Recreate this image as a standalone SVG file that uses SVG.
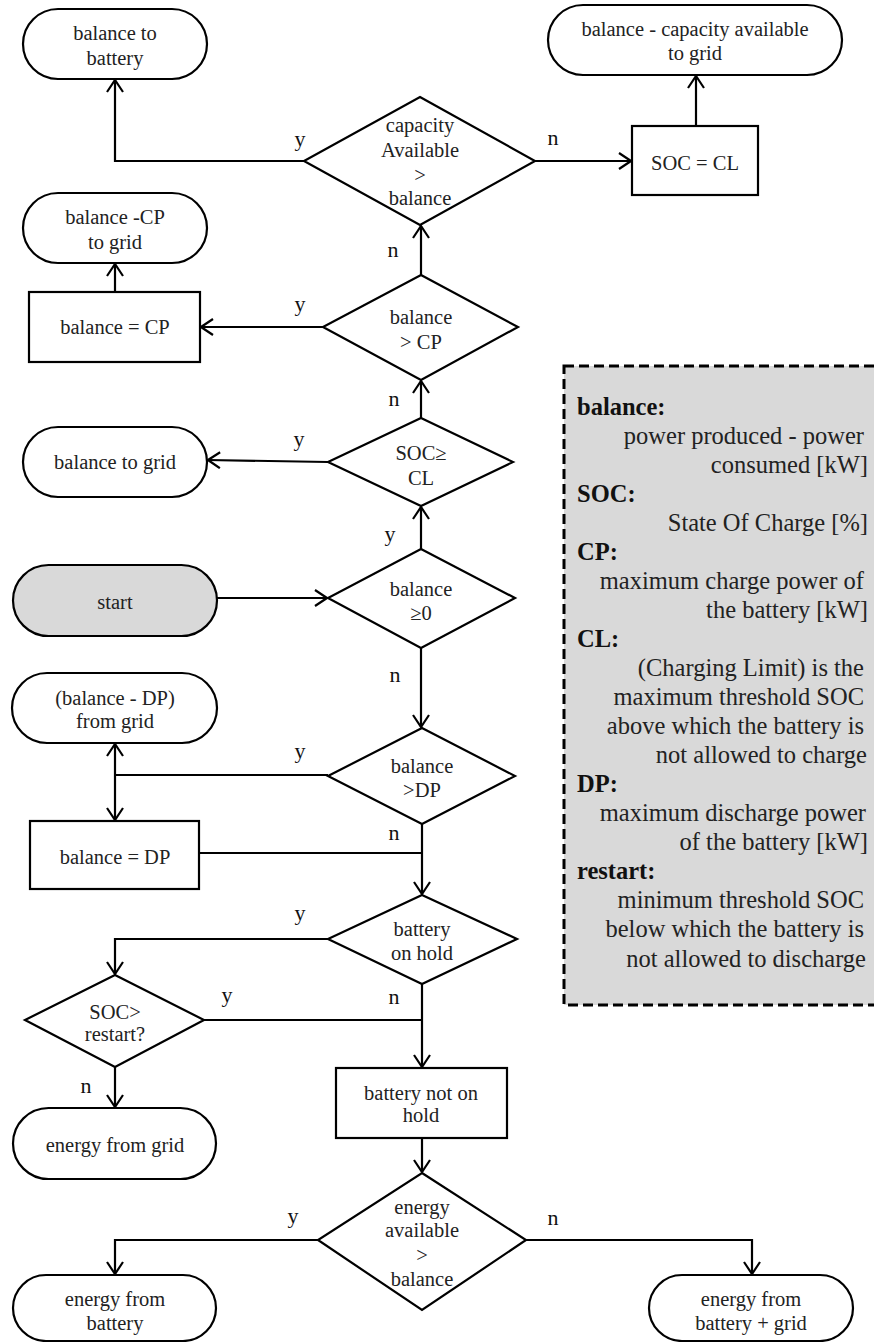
<svg xmlns="http://www.w3.org/2000/svg" width="874" height="1342" viewBox="0 0 874 1342">
<style>
.shape{fill:#fff;stroke:#000;stroke-width:2.2}
.start{fill:#d9d9d9;stroke:#000;stroke-width:2.2}
.t{font-family:"Liberation Serif","Times New Roman",serif;font-size:20.5px;fill:#222;text-anchor:middle}
.lbl{font-family:"Liberation Serif","Times New Roman",serif;font-size:22px;fill:#111;text-anchor:middle}
.conn{fill:none;stroke:#000;stroke-width:2.2}
.lg{font-family:"Liberation Serif","Times New Roman",serif;font-size:24.5px;fill:#222}
.lgb{font-family:"Liberation Serif","Times New Roman",serif;font-size:24.5px;fill:#111;font-weight:bold}
.r{text-anchor:end}
</style>
<defs>
<marker id="arr" viewBox="0 0 14 18" refX="13" refY="9" markerWidth="14" markerHeight="18" markerUnits="userSpaceOnUse" orient="auto">
<path d="M1,1 L13,9 L1,17" fill="none" stroke="#000" stroke-width="2.2"/>
</marker>
</defs>
<rect width="874" height="1342" fill="#fff"/>

<g id="legend">
<rect x="564" y="366" width="340" height="639" fill="#d9d9d9" stroke="#000" stroke-width="3" stroke-dasharray="10,5"/>
<text class="lgb" x="577" y="415">balance:</text>
<text class="lg r" x="864" y="444">power produced - power</text>
<text class="lg r" x="868" y="473">consumed [kW]</text>
<text class="lgb" x="577" y="502">SOC:</text>
<text class="lg r" x="868" y="531">State Of Charge [%]</text>
<text class="lgb" x="577" y="560">CP:</text>
<text class="lg r" x="864" y="589">maximum charge power of</text>
<text class="lg r" x="868" y="618">the battery [kW]</text>
<text class="lgb" x="577" y="647">CL:</text>
<text class="lg r" x="864" y="676">(Charging Limit) is the</text>
<text class="lg r" x="864" y="705">maximum threshold SOC</text>
<text class="lg r" x="864" y="734">above which the battery is</text>
<text class="lg r" x="867" y="763">not allowed to charge</text>
<text class="lgb" x="577" y="792">DP:</text>
<text class="lg r" x="866" y="821">maximum discharge power</text>
<text class="lg r" x="868" y="850">of the battery [kW]</text>
<text class="lgb" x="577" y="879">restart:</text>
<text class="lg r" x="864" y="908">minimum threshold SOC</text>
<text class="lg r" x="864" y="937">below which the battery is</text>
<text class="lg r" x="866" y="967">not allowed to discharge</text>
</g>

<g id="connectors">
<polyline class="conn" points="304,161 115,161 115,80" marker-end="url(#arr)"/>
<line class="conn" x1="535" y1="161" x2="631" y2="161" marker-end="url(#arr)"/>
<line class="conn" x1="696" y1="126" x2="696" y2="76" marker-end="url(#arr)"/>
<line class="conn" x1="421" y1="275" x2="421" y2="226" marker-end="url(#arr)"/>
<line class="conn" x1="323" y1="327" x2="201" y2="327" marker-end="url(#arr)"/>
<line class="conn" x1="115" y1="292" x2="115" y2="264" marker-end="url(#arr)"/>
<line class="conn" x1="421" y1="418" x2="421" y2="381" marker-end="url(#arr)"/>
<line class="conn" x1="328" y1="462" x2="208" y2="460" marker-end="url(#arr)"/>
<line class="conn" x1="421" y1="549" x2="421" y2="507" marker-end="url(#arr)"/>
<line class="conn" x1="217" y1="598" x2="327" y2="598" marker-end="url(#arr)"/>
<line class="conn" x1="421" y1="648" x2="421" y2="727" marker-end="url(#arr)"/>
<line class="conn" x1="328" y1="775" x2="115" y2="775"/>
<line class="conn" x1="115" y1="775" x2="115" y2="744" marker-end="url(#arr)"/>
<line class="conn" x1="115" y1="775" x2="115" y2="820" marker-end="url(#arr)"/>
<line class="conn" x1="422" y1="824" x2="422" y2="894" stroke-width="2.6" marker-end="url(#arr)"/>
<line class="conn" x1="199" y1="853" x2="422" y2="853"/>
<polyline class="conn" points="328,939 115,939 115,974" marker-end="url(#arr)"/>
<line class="conn" x1="422" y1="984" x2="422" y2="1067" stroke-width="2.6" marker-end="url(#arr)"/>
<line class="conn" x1="204" y1="1020" x2="422" y2="1020"/>
<line class="conn" x1="115" y1="1067" x2="115" y2="1107" marker-end="url(#arr)"/>
<line class="conn" x1="422" y1="1138" x2="422" y2="1172" marker-end="url(#arr)"/>
<polyline class="conn" points="318,1240 115,1240 115,1274" marker-end="url(#arr)"/>
<polyline class="conn" points="526,1240 752,1240 752,1274" marker-end="url(#arr)"/>
<text class="lbl" x="300" y="146">y</text>
<text class="lbl" x="553" y="145">n</text>
<text class="lbl" x="393" y="257">n</text>
<text class="lbl" x="300" y="311">y</text>
<text class="lbl" x="394" y="406">n</text>
<text class="lbl" x="299" y="446">y</text>
<text class="lbl" x="390" y="541">y</text>
<text class="lbl" x="395" y="682">n</text>
<text class="lbl" x="300" y="758">y</text>
<text class="lbl" x="394" y="840">n</text>
<text class="lbl" x="300" y="920">y</text>
<text class="lbl" x="394" y="1004">n</text>
<text class="lbl" x="227" y="1002">y</text>
<text class="lbl" x="86" y="1093">n</text>
<text class="lbl" x="293" y="1223">y</text>
<text class="lbl" x="553" y="1225">n</text>
</g>

<g id="n_balance_to_battery">
<rect class="shape" x="23" y="9" width="184" height="70" rx="35"/>
<text class="t" x="115" y="40">balance to</text>
<text class="t" x="115" y="65">battery</text>
</g>
<g id="n_cap_to_grid">
<rect class="shape" x="548" y="5" width="294" height="70" rx="35"/>
<text class="t" x="695" y="36">balance - capacity available</text>
<text class="t" x="695" y="60">to grid</text>
</g>
<g id="n_cap_avail">
<polygon class="shape" points="420,97 535,161 420,225 304,161"/>
<text class="t" x="420" y="132">capacity</text>
<text class="t" x="420" y="157">Available</text>
<text class="t" x="420" y="182">&gt;</text>
<text class="t" x="420" y="205">balance</text>
</g>
<g id="n_soc_cl">
<rect class="shape" x="632" y="126" width="126" height="69"/>
<text class="t" x="695" y="170">SOC = CL</text>
</g>
<g id="n_cp_to_grid">
<rect class="shape" x="23" y="193" width="184" height="70" rx="35"/>
<text class="t" x="115" y="224">balance -CP</text>
<text class="t" x="115" y="249">to grid</text>
</g>
<g id="n_bal_eq_cp">
<rect class="shape" x="29" y="292" width="171" height="70"/>
<text class="t" x="115" y="334">balance = CP</text>
</g>
<g id="n_bal_gt_cp">
<polygon class="shape" points="421,275 518,327 421,380 323,327"/>
<text class="t" x="421" y="324">balance</text>
<text class="t" x="421" y="349">&gt; CP</text>
</g>
<g id="n_bal_to_grid">
<rect class="shape" x="23" y="427" width="184" height="70" rx="35"/>
<text class="t" x="115" y="469">balance to grid</text>
</g>
<g id="n_soc_ge_cl">
<polygon class="shape" points="421,418 513,462 421,506 328,462"/>
<text class="t" x="421" y="460">SOC≥</text>
<text class="t" x="421" y="485">CL</text>
</g>
<g id="n_start">
<rect class="start" x="13" y="565" width="204" height="71" rx="35.5"/>
<text class="t" x="115" y="609">start</text>
</g>
<g id="n_bal_ge_0">
<polygon class="shape" points="421,549 515,598 421,648 328,598"/>
<text class="t" x="421" y="596">balance</text>
<text class="t" x="421" y="620">≥0</text>
</g>
<g id="n_dp_from_grid">
<rect class="shape" x="12" y="673" width="205" height="70" rx="35"/>
<text class="t" x="115" y="705">(balance - DP)</text>
<text class="t" x="115" y="728">from grid</text>
</g>
<g id="n_bal_gt_dp">
<polygon class="shape" points="422,728 515,776 422,824 328,776"/>
<text class="t" x="422" y="773">balance</text>
<text class="t" x="422" y="797">&gt;DP</text>
</g>
<g id="n_bal_eq_dp">
<rect class="shape" x="30" y="821" width="169" height="68"/>
<text class="t" x="115" y="864">balance = DP</text>
</g>
<g id="n_batt_hold">
<polygon class="shape" points="422,895 517,939 422,984 328,939"/>
<text class="t" x="422" y="936">battery</text>
<text class="t" x="422" y="960">on hold</text>
</g>
<g id="n_soc_restart">
<polygon class="shape" points="115,975 204,1020 115,1067 25,1020"/>
<text class="t" x="115" y="1019">SOC&gt;</text>
<text class="t" x="115" y="1041">restart?</text>
</g>
<g id="n_batt_not_hold">
<rect class="shape" x="336" y="1068" width="171" height="70"/>
<text class="t" x="421" y="1100">battery not on</text>
<text class="t" x="421" y="1122">hold</text>
</g>
<g id="n_energy_grid">
<rect class="shape" x="13" y="1108" width="203" height="71" rx="35.5"/>
<text class="t" x="115" y="1152">energy from grid</text>
</g>
<g id="n_energy_avail">
<polygon class="shape" points="422,1173 526,1240 422,1310 318,1240"/>
<text class="t" x="422" y="1214">energy</text>
<text class="t" x="422" y="1237">available</text>
<text class="t" x="422" y="1262">&gt;</text>
<text class="t" x="422" y="1286">balance</text>
</g>
<g id="n_energy_batt">
<rect class="shape" x="13" y="1275" width="203" height="66" rx="33"/>
<text class="t" x="115" y="1306">energy from</text>
<text class="t" x="115" y="1330">battery</text>
</g>
<g id="n_energy_batt_grid">
<rect class="shape" x="649" y="1275" width="204" height="66" rx="33"/>
<text class="t" x="751" y="1306">energy from</text>
<text class="t" x="751" y="1330">battery + grid</text>
</g>
</svg>
